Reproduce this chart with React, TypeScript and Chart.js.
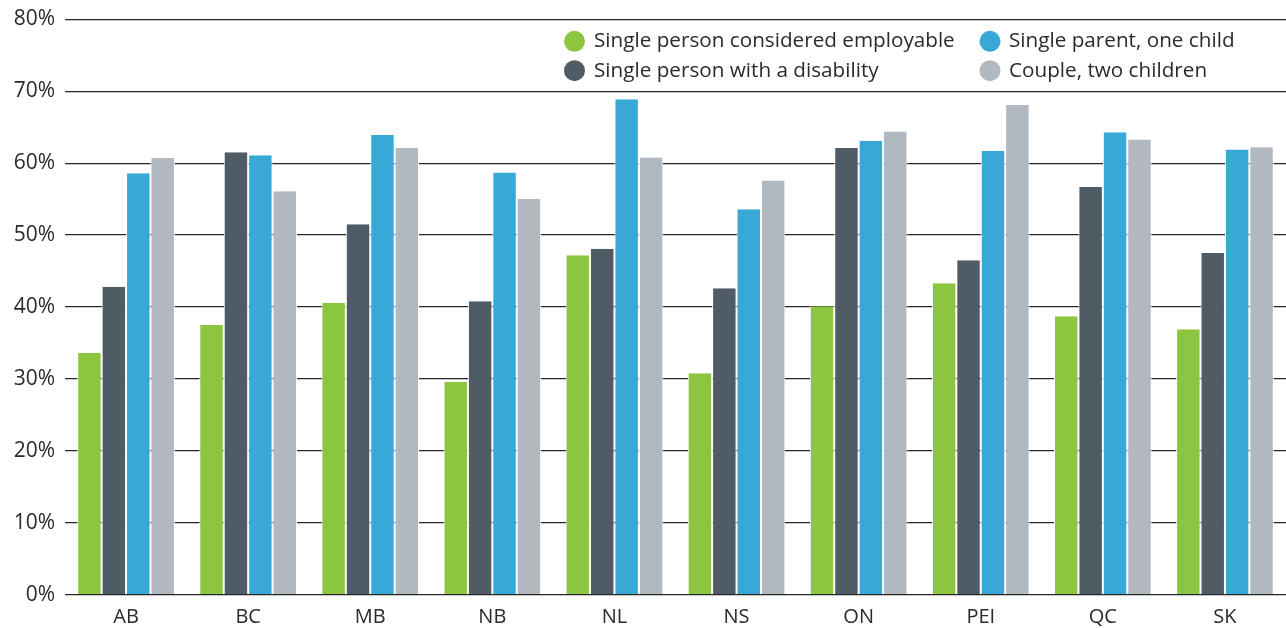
import React, { useEffect, useRef } from 'react';
import { Chart, registerables } from 'chart.js';

Chart.register(...registerables);

const provinces = ['AB', 'BC', 'MB', 'NB', 'NL', 'NS', 'ON', 'PEI', 'QC', 'SK'];
const seriesNames = [
  'Single person considered employable',
  'Single person with a disability',
  'Single parent, one child',
  'Couple, two children',
];
const employable = [33.6, 37.5, 40.6, 29.6, 47.2, 30.8, 40.1, 43.3, 38.7, 36.9];
const disability = [42.8, 61.5, 51.5, 40.8, 48.1, 42.6, 62.1, 46.5, 56.7, 47.5];
const singleParent = [58.6, 61.1, 63.9, 58.7, 68.9, 53.6, 63.1, 61.7, 64.3, 61.9];
const couple = [60.7, 56.1, 62.1, 55.0, 60.8, 57.6, 64.4, 68.1, 63.3, 62.2];
const yMax = 80;
const yStep = 10;

const colors = ['#8cc53f', '#505c65', '#38a8d6', '#b1b8bf'];
const textColor = '#2b2b2b';
const fontFamily = "'Open Sans', 'Noto Sans', sans-serif";

const legendPlugin = {
  id: 'gridLegend',
  afterDraw(chart: any) {
    const ctx = chart.ctx;
    const cols = [
      { circle: 574.5, text: 594 },
      { circle: 990, text: 1009 },
    ];
    const rows = [41.3, 70.7];
    ctx.save();
    ctx.font = `20.7px ${fontFamily}`;
    ctx.textBaseline = 'middle';
    ctx.textAlign = 'left';
    chart.data.datasets.forEach((ds: any, i: number) => {
      const col = cols[Math.floor(i / 2)];
      const y = rows[i % 2];
      ctx.beginPath();
      ctx.arc(col.circle, y, 10.5, 0, Math.PI * 2);
      ctx.fillStyle = ds.backgroundColor;
      ctx.fill();
      ctx.fillStyle = textColor;
      ctx.fillText(ds.label, col.text, y);
    });
    ctx.restore();
  },
};

export default function App() {
  const canvasRef = useRef<HTMLCanvasElement | null>(null);

  useEffect(() => {
    document.body.style.margin = '0';
    const canvas = canvasRef.current;
    if (!canvas) return;
    const seriesData = [employable, disability, singleParent, couple];
    const chart = new Chart(canvas, {
      type: 'bar',
      data: {
        labels: provinces,
        datasets: seriesData.map((d, i) => ({
          label: seriesNames[i],
          data: d,
          backgroundColor: colors[i],
          borderColor: '#ffffff',
          borderWidth: { left: 1, right: 1, top: 0, bottom: 0 },
          borderSkipped: false,
          barPercentage: 1,
          categoryPercentage: 0.8,
        })),
      },
      options: {
        animation: false,
        responsive: true,
        maintainAspectRatio: false,
        layout: { padding: { top: 19.3, left: 0, right: 0, bottom: 0 } },
        plugins: {
          legend: { display: false },
          tooltip: { enabled: false },
        },
        scales: {
          x: {
            grid: { display: false, drawTicks: false },
            border: { display: false },
            ticks: {
              color: textColor,
              font: { family: fontFamily, size: 20 },
              padding: 11,
            },
            afterFit: (s: any) => {
              s.height = 33.3;
            },
          },
          y: {
            min: 0,
            max: yMax,
            grid: { color: '#262626', lineWidth: 1.3, drawTicks: false },
            border: { display: false },
            ticks: {
              stepSize: yStep,
              color: textColor,
              font: { family: fontFamily, size: 21 },
              padding: 10,
              callback: (v: any) => `${v}%`,
            },
            afterFit: (s: any) => {
              s.width = 65;
              s.paddingTop = 0;
              s.paddingBottom = 0;
            },
          },
        },
      },
      plugins: [legendPlugin],
    });
    return () => chart.destroy();
  }, []);

  return (
    <div style={{ width: 1286, height: 628, position: 'relative' }}>
      <canvas ref={canvasRef} />
    </div>
  );
}
